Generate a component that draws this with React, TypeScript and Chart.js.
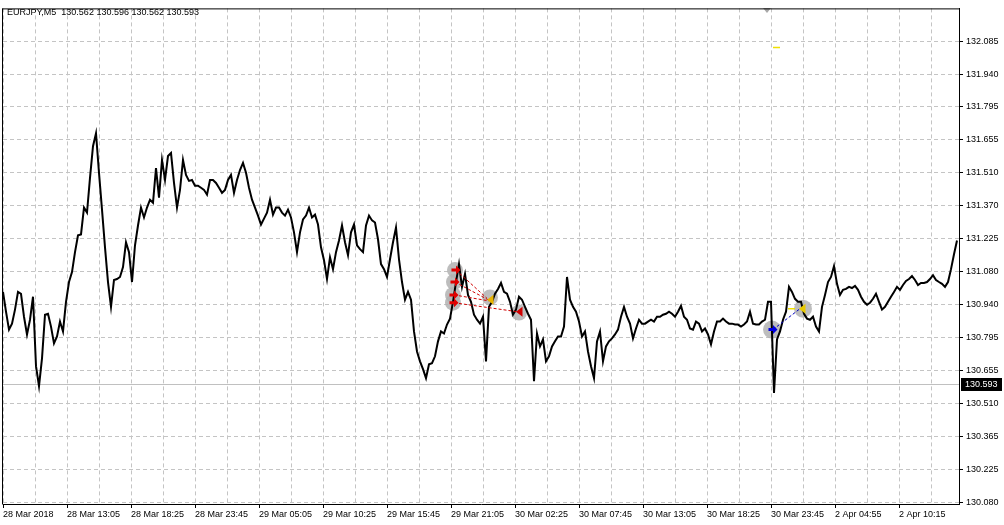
import React, { useEffect, useRef } from 'react';
import { Chart, registerables } from 'chart.js';

Chart.register(...registerables);

// ---------- data ----------
const HEADER_TEXT = 'EURJPY,M5  130.562 130.596 130.562 130.593';
const BAR_STEP = 3; // bars between samples
const TOTAL_BARS = 956;
const TIME_LABEL_EVERY = 64;
const GRID_EVERY = 32;
const TIME_LABELS = [
  '28 Mar 2018', '28 Mar 13:05', '28 Mar 18:25', '28 Mar 23:45', '29 Mar 05:05',
  '29 Mar 10:25', '29 Mar 15:45', '29 Mar 21:05', '30 Mar 02:25', '30 Mar 07:45',
  '30 Mar 13:05', '30 Mar 18:25', '30 Mar 23:45', '2 Apr 04:55', '2 Apr 10:15',
];
const PRICE_LABELS = [
  '130.080', '130.225', '130.365', '130.510', '130.655', '130.795', '130.940', '131.080',
  '131.225', '131.370', '131.510', '131.655', '131.795', '131.940', '132.085',
];
const PRICE_LO = 130.08;
const PRICE_HI = 132.085;
const Y_MIN = 130.0714;
const Y_MAX = 132.2273;
const CURRENT_PRICE = 130.593;
const CURRENT_PRICE_TEXT = '130.593';

const CLOSES = [
  130.994, 130.908, 130.830, 130.856, 130.917, 130.994, 130.986, 130.886, 130.809, 130.873,
  130.973, 130.671, 130.584, 130.705, 130.895, 130.899, 130.843, 130.770, 130.800, 130.865,
  130.822, 130.951, 131.037, 131.080, 131.167, 131.240, 131.244, 131.361, 131.339, 131.490,
  131.628, 131.684, 131.512, 131.352, 131.188, 131.037, 130.929, 131.046, 131.050, 131.059,
  131.102, 131.210, 131.167, 131.037, 131.197, 131.283, 131.361, 131.318, 131.361, 131.395,
  131.382, 131.533, 131.404, 131.568, 131.481, 131.585, 131.598, 131.468, 131.361, 131.438,
  131.568, 131.503, 131.477, 131.481, 131.456, 131.456, 131.447, 131.438, 131.417, 131.481,
  131.481, 131.468, 131.447, 131.425, 131.438, 131.481, 131.503, 131.425, 131.481, 131.524,
  131.555, 131.512, 131.447, 131.395, 131.361, 131.326, 131.287, 131.313, 131.339, 131.395,
  131.330, 131.361, 131.361, 131.339, 131.326, 131.352, 131.318, 131.253, 131.167, 131.253,
  131.309, 131.326, 131.361, 131.318, 131.330, 131.287, 131.188, 131.132, 131.050, 131.145,
  131.093, 131.167, 131.218, 131.283, 131.210, 131.154, 131.253, 131.287, 131.197, 131.180,
  131.167, 131.283, 131.326, 131.305, 131.296, 131.223, 131.115, 131.093, 131.059, 131.136,
  131.210, 131.274, 131.136, 131.037, 130.960, 130.994, 130.960, 130.822, 130.735, 130.692,
  130.658, 130.619, 130.679, 130.684, 130.714, 130.779, 130.822, 130.813, 130.852, 130.878,
  130.951, 131.037, 131.115, 131.016, 131.072, 130.981, 130.951, 130.895, 130.873, 130.856,
  130.886, 130.692, 130.929, 130.951, 130.986, 131.007, 131.033, 130.994, 130.986, 130.951,
  130.895, 130.917, 130.973, 130.960, 130.929, 130.899, 130.873, 130.606, 130.813, 130.757,
  130.787, 130.692, 130.714, 130.757, 130.779, 130.800, 130.800, 130.843, 131.059, 130.960,
  130.929, 130.908, 130.865, 130.800, 130.822, 130.735, 130.671, 130.619, 130.779, 130.822,
  130.692, 130.757, 130.779, 130.792, 130.809, 130.830, 130.886, 130.929, 130.886, 130.856,
  130.792, 130.835, 130.873, 130.856, 130.856, 130.865, 130.873, 130.865, 130.886, 130.886,
  130.895, 130.899, 130.908, 130.899, 130.886, 130.908, 130.934, 130.886, 130.873, 130.835,
  130.830, 130.865, 130.856, 130.822, 130.835, 130.809, 130.766, 130.822, 130.865, 130.865,
  130.878, 130.865, 130.856, 130.856, 130.852, 130.852, 130.843, 130.852, 130.865, 130.908,
  130.856, 130.852, 130.852, 130.865, 130.873, 130.951, 130.951, 130.554, 130.787, 130.822,
  130.873, 130.908, 131.016, 130.994, 130.964, 130.951, 130.951, 130.899, 130.878, 130.873,
  130.886, 130.843, 130.822, 130.929, 130.981, 131.037, 131.059, 131.106, 131.029, 130.981,
  131.003, 131.007, 131.016, 131.011, 131.020, 131.003, 130.973, 130.951, 130.938, 130.947,
  130.964, 130.986, 130.951, 130.917, 130.929, 130.951, 130.973, 130.994, 131.016, 131.003,
  131.024, 131.042, 131.050, 131.063, 131.046, 131.024, 131.033, 131.033, 131.037, 131.050,
  131.067, 131.046, 131.037, 131.029, 131.016, 131.037, 131.093, 131.158, 131.218,
];

// trade markers (bar index, price)
const OPEN_BARS = [453, 452, 451, 451, 770];
const OPEN_PRICES = [131.089, 131.037, 130.981, 130.947, 130.83];
const CLOSE_BARS = [484, 485, 486, 514, 797];
const CLOSE_PRICES = [130.966, 130.96, 130.955, 130.908, 130.921];
const OPEN_COLORS = ['#e00000', '#e00000', '#e00000', '#e00000', '#0000e0'];
const CLOSE_COLORS = ['#e8b400', '#e8b400', '#e8b400', '#d00000', '#e8c800'];
const LINK_COLORS = ['#d00000', '#d00000', '#d00000', '#d00000', '#0000c0'];
const SL_TICK_BARS = [785, 792];
const SL_TICK_PRICE = 130.921;
const TOP_MARKER_BAR = 764;
const TOP_MARKER_PRICE = 132.216;
const TOP_LEVEL_BARS = [770, 777];
const TOP_LEVEL_PRICE = 132.058;

const FONT = 'Liberation Sans';

const overlayPlugin = {
  id: 'mtOverlay',
  beforeDraw(chart: any) {
    const ctx = chart.ctx;
    ctx.save();
    ctx.fillStyle = '#ffffff';
    ctx.fillRect(0, 0, chart.width, chart.height);
    ctx.restore();
  },
  beforeDatasetsDraw(chart: any) {
    const { ctx, chartArea: a, scales } = chart;
    const xs = scales.x, ys = scales.y;
    ctx.save();
    // current price line
    const py = Math.round(ys.getPixelForValue(CURRENT_PRICE)) + 0.5;
    ctx.strokeStyle = '#c0c0c0';
    ctx.lineWidth = 1;
    ctx.beginPath();
    ctx.moveTo(a.left, py);
    ctx.lineTo(a.right, py);
    ctx.stroke();
    // gray halos
    ctx.fillStyle = 'rgba(178,178,178,0.85)';
    const halo = (bx: number, pr: number, r: number) => {
      ctx.beginPath();
      ctx.arc(xs.getPixelForValue(bx), ys.getPixelForValue(pr), r, 0, Math.PI * 2);
      ctx.fill();
    };
    for (let i = 0; i < OPEN_BARS.length; i++) {
      const r = i === 4 ? 9 : 8;
      halo(OPEN_BARS[i] - 1, OPEN_PRICES[i], r);
    }
    halo(CLOSE_BARS[1] + 2, CLOSE_PRICES[1] + 0.01, 8);
    halo(CLOSE_BARS[3] + 2, CLOSE_PRICES[3] - 0.004, 8);
    halo(CLOSE_BARS[4] + 3, CLOSE_PRICES[4], 9);
    ctx.restore();
  },
  afterDatasetsDraw(chart: any) {
    const { ctx, scales } = chart;
    const xs = scales.x, ys = scales.y;
    ctx.save();
    // link lines
    ctx.lineWidth = 1;
    ctx.setLineDash([3, 2]);
    for (let i = 0; i < OPEN_BARS.length; i++) {
      ctx.strokeStyle = LINK_COLORS[i];
      ctx.beginPath();
      ctx.moveTo(xs.getPixelForValue(OPEN_BARS[i]), ys.getPixelForValue(OPEN_PRICES[i]));
      ctx.lineTo(xs.getPixelForValue(CLOSE_BARS[i]), ys.getPixelForValue(CLOSE_PRICES[i]));
      ctx.stroke();
    }
    ctx.setLineDash([]);
    // yellow small ticks
    ctx.strokeStyle = '#f0e000';
    ctx.lineWidth = 1.5;
    ctx.beginPath();
    const sy = ys.getPixelForValue(SL_TICK_PRICE);
    ctx.moveTo(xs.getPixelForValue(SL_TICK_BARS[0]), sy);
    ctx.lineTo(xs.getPixelForValue(SL_TICK_BARS[1]), sy);
    const ty = Math.round(ys.getPixelForValue(TOP_LEVEL_PRICE)) + 0.5;
    ctx.moveTo(xs.getPixelForValue(TOP_LEVEL_BARS[0]), ty);
    ctx.lineTo(xs.getPixelForValue(TOP_LEVEL_BARS[1]), ty);
    ctx.stroke();
    // open arrows (pointing right)
    for (let i = 0; i < OPEN_BARS.length; i++) {
      const x = xs.getPixelForValue(OPEN_BARS[i]);
      const y = ys.getPixelForValue(OPEN_PRICES[i]);
      ctx.fillStyle = OPEN_COLORS[i];
      ctx.beginPath();
      ctx.moveTo(x + 4.5, y);
      ctx.lineTo(x, y - 4.5);
      ctx.lineTo(x, y - 1.5);
      ctx.lineTo(x - 4.5, y - 1.5);
      ctx.lineTo(x - 4.5, y + 1.5);
      ctx.lineTo(x, y + 1.5);
      ctx.lineTo(x, y + 4.5);
      ctx.closePath();
      ctx.fill();
    }
    // close triangles (pointing left)
    const closeIdx = [1, 3, 4];
    for (const i of closeIdx) {
      const x = xs.getPixelForValue(CLOSE_BARS[i]) + 3;
      const y = ys.getPixelForValue(CLOSE_PRICES[i]);
      ctx.fillStyle = CLOSE_COLORS[i];
      ctx.beginPath();
      ctx.moveTo(x - 4, y);
      ctx.lineTo(x + 2.5, y - 5);
      ctx.lineTo(x + 2.5, y + 5);
      ctx.closePath();
      ctx.fill();
    }
    // top gray marker
    const mx = xs.getPixelForValue(TOP_MARKER_BAR);
    const my = ys.getPixelForValue(TOP_MARKER_PRICE);
    ctx.fillStyle = '#a8a8a8';
    ctx.beginPath();
    ctx.moveTo(mx - 4, my - 3);
    ctx.lineTo(mx + 4, my - 3);
    ctx.lineTo(mx, my + 2);
    ctx.closePath();
    ctx.fill();
    ctx.restore();
  },
  afterDraw(chart: any) {
    const { ctx, chartArea: a, scales } = chart;
    ctx.save();
    // frame
    ctx.strokeStyle = '#000';
    ctx.lineWidth = 1;
    ctx.beginPath();
    ctx.moveTo(a.left - 0.5, a.top + 0.5);
    ctx.lineTo(a.right + 0.5, a.top + 0.5);
    ctx.moveTo(a.left - 0.5, a.top);
    ctx.lineTo(a.left - 0.5, a.bottom + 0.5);
    ctx.stroke();
    // header
    ctx.fillStyle = '#000';
    ctx.font = `9px "${FONT}"`;
    ctx.textBaseline = 'middle';
    ctx.textAlign = 'left';
    ctx.fillText(HEADER_TEXT, 7, 13);
    // current price box
    const py = Math.round(scales.y.getPixelForValue(CURRENT_PRICE));
    ctx.fillStyle = '#000';
    ctx.fillRect(a.right + 2, py - 6, 41, 13);
    ctx.fillStyle = '#fff';
    ctx.fillText(CURRENT_PRICE_TEXT, a.right + 6, py + 0.5);
    ctx.restore();
  },
};

export default function App() {
  const ref = useRef<HTMLCanvasElement | null>(null);

  useEffect(() => {
    document.body.style.margin = '0';
    document.body.style.background = '#fff';
    const canvas = ref.current;
    if (!canvas) return;
    const points = CLOSES.map((c, i) => ({ x: i * BAR_STEP, y: c }));
    const tickFont = { family: FONT, size: 9 };
    const chart = new Chart(canvas, {
      type: 'line',
      data: {
        datasets: [
          {
            data: points,
            borderColor: '#000',
            borderWidth: 2,
            borderJoinStyle: 'miter',
            pointRadius: 0,
            tension: 0,
            fill: false,
          },
        ],
      },
      options: {
        animation: false,
        responsive: false,
        devicePixelRatio: 1,
        events: [],
        layout: { padding: { left: 3, top: 4, right: 0, bottom: 0 } },
        plugins: { legend: { display: false }, tooltip: { enabled: false }, title: { display: false } },
        scales: {
          x: {
            type: 'linear',
            min: 0,
            max: TOTAL_BARS,
            afterBuildTicks: (scale: any) => {
              const t = [];
              for (let v = 0; v <= TOTAL_BARS - 20; v += GRID_EVERY) t.push({ value: v });
              scale.ticks = t;
            },
            afterFit: (scale: any) => {
              scale.height = 21;
            },
            ticks: {
              autoSkip: false,
              maxRotation: 0,
              minRotation: 0,
              align: 'start',
              padding: 1,
              color: '#000',
              font: tickFont,
              callback: (v: any) => {
                const n = Math.round(Number(v));
                return n % TIME_LABEL_EVERY === 0 ? TIME_LABELS[n / TIME_LABEL_EVERY] : '';
              },
            },
            grid: {
              color: '#c4c4c4',
              lineWidth: 1,
              tickLength: 4,
              tickColor: (c: any) =>
                c.tick && Math.round(c.tick.value) % TIME_LABEL_EVERY === 0 ? '#000' : 'rgba(0,0,0,0)',
            },
            border: { display: true, color: '#000', width: 1, dash: [4, 3] },
          },
          y: {
            type: 'linear',
            position: 'right',
            min: Y_MIN,
            max: Y_MAX,
            afterBuildTicks: (scale: any) => {
              const n = PRICE_LABELS.length - 1;
              scale.ticks = PRICE_LABELS.map((_l, k) => ({ value: PRICE_LO + (k * (PRICE_HI - PRICE_LO)) / n }));
            },
            afterFit: (scale: any) => {
              scale.width = 45;
            },
            ticks: {
              autoSkip: false,
              padding: 3,
              color: '#000',
              font: tickFont,
              callback: (_v: any, idx: number) => PRICE_LABELS[idx],
            },
            grid: { color: '#c4c4c4', lineWidth: 1, tickLength: 4, tickColor: '#000' },
            border: { display: true, color: '#000', width: 1, dash: [4, 3] },
          },
        },
      },
      plugins: [overlayPlugin],
    } as any);
    return () => chart.destroy();
  }, []);

  return (
    <canvas
      ref={ref}
      width={1004}
      height={525}
      style={{ display: 'block', width: '1004px', height: '525px' }}
    />
  );
}
